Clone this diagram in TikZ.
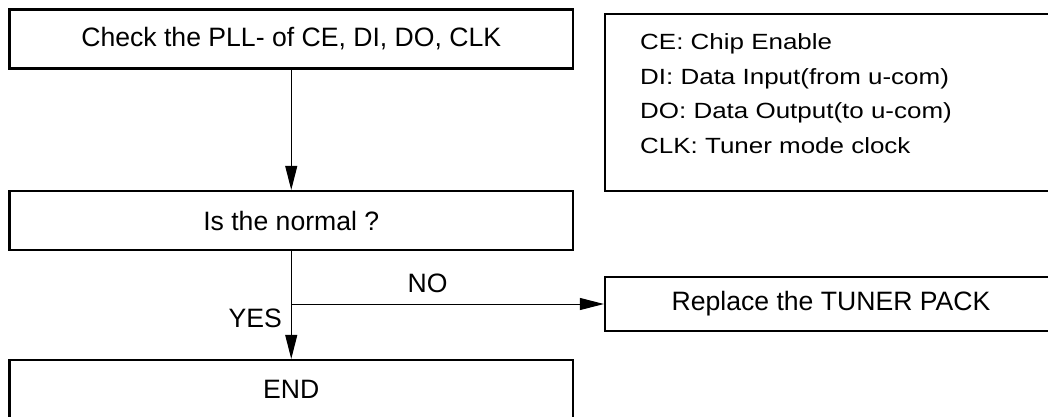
\documentclass[tikz,border=0pt]{standalone}
\usepackage{fontspec}
\setmainfont{Liberation Sans}
\newfontfamily\legfont[FakeStretch=1.18]{Liberation Sans}
\usetikzlibrary{arrows.meta}
\tikzset{
  flowbox/.style={draw, line width=2.2pt, rectangle, inner sep=0pt,
    font=\fontsize{26.6}{30}\selectfont},
  conn/.style={line width=1pt, -{Triangle[length=24pt,width=12pt]}},
  lbl/.style={inner sep=0pt, font=\fontsize{26.6}{30}\selectfont},
  legline/.style={inner sep=0pt, anchor=base west, font=\legfont\fontsize{22}{26}\selectfont}
}
\begin{document}
\begin{tikzpicture}[x=1pt,y=-1pt]
\useasboundingbox[fill=white] (0,0) rectangle (1048,416);
% flow boxes
\node[flowbox, minimum width=563.5pt, minimum height=59pt] (b1) at (291.25,39) {Check the PLL- of CE, DI, DO, CLK};
\node[flowbox, minimum width=563.5pt, minimum height=59pt] (b2) at (291.25,220.5) {Is the normal ?};
\node[flowbox, minimum width=563.5pt, minimum height=59pt] (endb) at (291.25,389.5) {END};
\node[flowbox, minimum width=452pt, minimum height=54pt] (repl) at (831,304) {Replace the TUNER PACK};
% legend box
\node[flowbox, minimum width=455pt, minimum height=177pt] (leg) at (832.5,102.5) {};
\node[legline] (l1) at (640,49) {CE: Chip Enable};
\node[legline] (l2) at (640,84) {DI: Data Input(from u-com)};
\node[legline] (l3) at (640,118.5) {DO: Data Output(to u-com)};
\node[legline] (l4) at (640,153) {CLK: Tuner mode clock};
% connectors
\draw[conn] (b1.south) -- (b2.north);
\draw[conn] (b2.south) -- (endb.north);
\coordinate (br) at (b2.south |- repl.west);
\draw[conn] (br) -- (repl.west);
% labels
\node[lbl, anchor=base] (no) at (427.5,292.7) {NO};
\node[lbl, anchor=base east] (yes) at (282,327) {YES};
\end{tikzpicture}
\end{document}
